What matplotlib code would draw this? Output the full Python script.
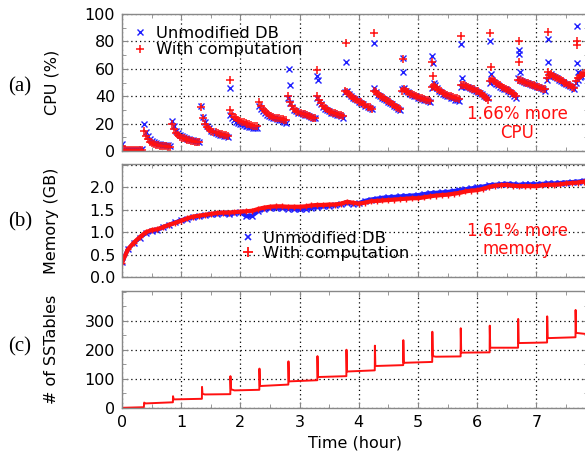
import matplotlib
matplotlib.use("Agg")
import matplotlib.pyplot as plt
import numpy as np
from matplotlib.ticker import MultipleLocator
from matplotlib.lines import Line2D

# ---------------- data ----------------
# CPU (%) : compaction cycles, start times (hour) and sampled values
seg_start = [0.0, 0.37, 0.84, 1.34, 1.82, 2.32, 2.81, 3.29, 3.77, 4.25,
             4.73, 5.23, 5.72, 6.21, 6.69, 7.18, 7.67, 7.85]
cpu_blue = [
    [5, 1, 0.5, 0.5, 0.8, 0.5, 0.6, 0.5, 0.8, 0.5, 1.5],
    [20, 14, 11, 9, 7.5, 6.5, 6, 5.5, 5, 4.8, 4.5, 4.3, 4.2, 4],
    [22, 18, 15, 13, 12, 11, 10.3, 9.7, 9.2, 8.8, 8.4, 8, 7.6, 7.3, 7],
    [33, 25, 21, 18, 16.5, 15, 14, 13.3, 12.5, 12, 11.5, 11, 10.7, 10.3],
    [26, 24, 22.5, 21.5, 20.5, 20, 19.5, 19, 18.5, 18, 17.8, 17.5, 17.2, 17, 16.8],
    [33, 31, 29, 27.5, 26.5, 25.5, 25, 24.5, 24, 23.5, 23, 22.5, 22, 21, 20.5],
    [39, 35, 32, 30, 29, 28, 27.5, 27, 26.5, 26, 25.5, 25, 24.5, 24],
    [39, 36, 34, 32.5, 31, 30, 29, 28, 27.5, 27, 26.5, 26, 25.5, 24.5],
    [43, 44, 42, 40.5, 39, 38, 37, 36, 35, 34, 33, 32.5, 31.5, 30.5],
    [46, 43, 41, 40, 39, 38, 37, 36, 35, 34, 33, 32, 31, 30],
    [45, 46, 44, 43, 42, 41, 40.5, 40, 39, 38.5, 38, 37.5, 37, 36.5, 36],
    [46, 50, 48, 46, 44, 43, 42, 41, 40.5, 40, 39, 38.5, 37.5, 37, 36.5],
    [47, 48, 47.5, 47, 46.5, 46, 45, 44.5, 44, 43, 42.5, 41.5, 40.5, 39.5, 38.5],
    [50, 52, 50.5, 49, 48, 47, 46, 45.5, 45, 44, 43, 42, 40.5, 38.5],
    [53, 52, 51, 50.5, 50, 49.5, 49, 48.5, 48, 47.5, 47, 46.5, 46, 45, 44],
    [52, 55, 56.5, 55, 54, 53, 52, 51, 50.5, 50, 49, 48.5, 47.5, 46.5, 45],
    [50, 52, 54, 55, 56, 56.5],
]
cpu_red = [
    [4, 0.8, 0.5, 0.6, 0.5, 0.7, 0.5, 0.6, 0.5, 0.6, 0.5],
    [15, 11, 8.5, 7, 6, 5.3, 4.8, 4.4, 4, 3.8, 3.6, 3.4, 3.3, 3.2],
    [20, 16, 13, 11.5, 10.5, 9.8, 9.3, 8.8, 8.4, 8, 7.6, 7.3, 7, 6.8, 6.5],
    [32, 24, 20, 17.5, 16, 15, 14.2, 13.6, 13, 12.6, 12.2, 11.8, 11.5, 11.2],
    [30, 27, 25, 24, 23, 22, 21.5, 21, 20.5, 20, 19.5, 19, 18.5, 18.3, 18],
    [36, 33, 30.5, 29, 27.5, 26.5, 25.5, 25, 24.5, 24, 23.8, 23.5, 23.2, 23, 22.8],
    [40, 36, 33, 31, 29.5, 28.5, 28, 27.3, 26.7, 26, 25.5, 25, 24.5, 24],
    [40, 37, 35, 33, 31.5, 30.5, 29.5, 28.5, 28, 27.5, 27, 26.5, 26, 25.5],
    [44, 43, 41.5, 40, 39, 38, 37, 36, 35.5, 34.5, 33.5, 32.5, 32, 31],
    [44, 43, 41.5, 40.5, 39.5, 38.5, 37.5, 36.5, 35.5, 34.5, 33.5, 32.5, 31.5, 30.5],
    [44, 45, 44, 43, 42, 41.5, 41, 40, 39.5, 39, 38.5, 38, 37.5, 37, 36.5],
    [47, 48, 47, 45.5, 44.5, 43.5, 42.5, 41.5, 41, 40.5, 40, 39.5, 39, 38.5, 38],
    [48, 48.5, 48, 47.5, 47, 46, 45.5, 45, 44, 43.5, 42.5, 41.5, 40.5, 39, 37],
    [51, 52.5, 51, 50, 49, 48, 47, 46, 45.5, 44.5, 43.5, 42.5, 41.5, 40.5],
    [52, 51.5, 51, 50.5, 50, 49.5, 49, 48.5, 48, 47.5, 47, 46.5, 46, 45.5, 45],
    [53, 55.5, 56, 55, 54, 53, 52.5, 51.5, 51, 50, 49.5, 48.5, 48, 47, 46],
    [51, 53, 54.5, 55.5, 56.5, 57],
]
# isolated CPU peaks at the start of compactions
blue_peak_t = [1.83, 2.82, 2.83, 3.30, 3.31, 3.78, 4.26, 4.74, 4.75, 5.24, 5.25,
               5.73, 5.74, 6.22, 6.23, 6.70, 6.71, 6.72, 7.19, 7.20, 7.68, 7.69, 7.70]
blue_peak_v = [46, 60, 48, 55, 52, 65, 79, 68, 58, 69, 64,
               78, 53, 80, 56, 74, 71, 58, 81.5, 65, 91, 64, 58]
red_peak_t = [1.83, 3.30, 3.78, 4.26, 4.74, 5.24, 5.25, 5.73, 6.22, 6.23,
              6.70, 6.71, 7.19, 7.20, 7.68, 7.69]
red_peak_v = [52, 59, 79, 86, 67, 65, 55, 84, 86, 61,
              80, 65, 87, 58, 80.5, 77.5]

# Memory (GB), sampled every 0.1 hour from 0 to 7.8
mem_t = [round(0.1 * i, 1) for i in range(79)]
mem_blue = [0.33, 0.62, 0.76, 0.88, 0.98, 1.03, 1.06, 1.12, 1.17, 1.22,
            1.27, 1.30, 1.34, 1.36, 1.38, 1.40, 1.41, 1.42, 1.40, 1.43,
            1.45, 1.36, 1.37, 1.47, 1.52, 1.54, 1.54, 1.54, 1.53, 1.52,
            1.51, 1.53, 1.55, 1.56, 1.58, 1.59, 1.61, 1.63, 1.66, 1.64,
            1.65, 1.70, 1.73, 1.75, 1.77, 1.78, 1.79, 1.80, 1.81, 1.82,
            1.83, 1.85, 1.87, 1.88, 1.89, 1.90, 1.92, 1.94, 1.96, 1.98,
            2.00, 2.02, 2.05, 2.06, 2.07, 2.08, 2.07, 2.06, 2.07, 2.07,
            2.07, 2.08, 2.09, 2.09, 2.10, 2.11, 2.12, 2.13, 2.15]
mem_red = [0.32, 0.62, 0.77, 0.89, 1.00, 1.05, 1.07, 1.12, 1.17, 1.21,
           1.26, 1.31, 1.35, 1.37, 1.39, 1.41, 1.43, 1.44, 1.44, 1.45,
           1.46, 1.47, 1.48, 1.52, 1.55, 1.57, 1.58, 1.58, 1.57, 1.57,
           1.57, 1.58, 1.60, 1.61, 1.61, 1.62, 1.62, 1.64, 1.68, 1.66,
           1.64, 1.66, 1.69, 1.70, 1.71, 1.72, 1.73, 1.74, 1.75, 1.76,
           1.76, 1.78, 1.80, 1.82, 1.83, 1.84, 1.86, 1.88, 1.91, 1.93,
           1.94, 1.97, 2.01, 2.04, 2.05, 2.06, 2.04, 2.03, 2.03, 2.03,
           2.03, 2.05, 2.06, 2.06, 2.07, 2.09, 2.10, 2.11, 2.13]

# Number of SSTables
sst_t = [0.00, 0.37, 0.375, 0.385, 0.86, 0.862, 0.875, 1.35, 1.352, 1.36, 1.40,
         1.83, 1.832, 1.84, 1.90, 2.32, 2.322, 2.33, 2.81, 2.812, 2.82,
         3.30, 3.302, 3.31, 3.79, 3.792, 3.80, 4.27, 4.272, 4.28, 4.75, 4.752, 4.76,
         5.24, 5.242, 5.25, 5.30, 5.72, 5.722, 5.73, 6.21, 6.212, 6.22,
         6.69, 6.692, 6.70, 7.18, 7.182, 7.19, 7.66, 7.662, 7.67, 7.85]
sst_v = [0, 2, 18, 15, 19, 40, 29, 31, 72, 48, 46,
         47, 109, 64, 60, 62, 135, 75, 80, 160, 91,
         95, 178, 106, 109, 200, 125, 129, 214, 144, 147, 233, 155,
         158, 262, 178, 176, 177, 274, 190, 191, 283, 207,
         207, 306, 223, 225, 315, 240, 243, 337, 258, 254]

x_ticks = [0, 1, 2, 3, 4, 5, 6, 7]
labels = ["Unmodified DB", "With computation"]

# ---------------- drawing ----------------
BLUE = "#1f1fff"
RED = "#ff1010"
SPINE = "#888888"
FS = 11.5

plt.rcParams["font.family"] = ["DejaVu Sans"]
fig = plt.figure(figsize=(5.85, 4.65), dpi=100)
L, W = 0.2085, 0.7965
ax1 = fig.add_axes([L, 0.675, W, 0.295])
ax2 = fig.add_axes([L, 0.404, W, 0.243])
ax3 = fig.add_axes([L, 0.123, W, 0.251])

# CPU
bt, bv, rt, rv = [], [], [], []
for i in range(len(cpu_blue)):
    s, e = seg_start[i], seg_start[i + 1]
    nb = len(cpu_blue[i])
    bt += [s + (e - s) * k / nb for k in range(nb)]
    bv += cpu_blue[i]
    nr = len(cpu_red[i])
    rt += [s + (e - s) * k / nr for k in range(nr)]
    rv += cpu_red[i]
bt += blue_peak_t; bv += blue_peak_v
rt += red_peak_t; rv += red_peak_v
ax1.plot(bt, bv, ls="none", marker="x", ms=4.5, mew=1.0, color=BLUE, label=labels[0])
ax1.plot(rt, rv, ls="none", marker="+", ms=6, mew=1.1, color=RED, label=labels[1])
ax1.set_ylim(0, 100)
ax1.yaxis.set_major_locator(MultipleLocator(20))
ax1.yaxis.set_minor_locator(MultipleLocator(10))
ax1.set_ylabel("CPU (%)", fontsize=FS)
ax1.legend(loc="upper left", bbox_to_anchor=(0.022, 0.915), frameon=False,
           fontsize=11.8, handlelength=1.0, handletextpad=0.45, labelspacing=0.1,
           borderaxespad=0, borderpad=0)
ax1.text(0.848, 0.2, "1.66% more\nCPU", transform=ax1.transAxes, color=RED,
         fontsize=12, ha="center", va="center", linespacing=1.1)

# Memory
ax2.plot(mem_t, mem_blue, ls="-", lw=3.0, marker="x", ms=4, mew=1.0, color=BLUE)
ax2.plot(mem_t, mem_red, ls="-", lw=3.0, marker="+", ms=5, mew=1.0, color=RED)
ax2.set_ylim(0, 2.52)
ax2.set_yticks([0, 0.5, 1.0, 1.5, 2.0, 2.5])
ax2.set_yticklabels(["0.0", "0.5", "1.0", "1.5", "2.0", ""])
ax2.set_ylabel("Memory (GB)", fontsize=FS)
mem_handles = [Line2D([], [], ls="none", marker="x", ms=5, mew=1.2, color=BLUE),
               Line2D([], [], ls="none", marker="+", ms=7, mew=1.3, color=RED)]
ax2.legend(mem_handles, labels, loc="upper left", bbox_to_anchor=(0.252, 0.41),
           frameon=False, fontsize=11.8, handlelength=1.0, handletextpad=0.45,
           labelspacing=0.0, borderaxespad=0, borderpad=0)
ax2.text(0.848, 0.33, "1.61% more\nmemory", transform=ax2.transAxes, color=RED,
         fontsize=12, ha="center", va="center", linespacing=1.0)

# SSTables
ax3.plot(sst_t, sst_v, color=RED, lw=1.4)
ax3.set_ylim(0, 402)
ax3.yaxis.set_minor_locator(MultipleLocator(50))
ax3.set_yticks([0, 100, 200, 300])
ax3.set_ylabel("# of SSTables", fontsize=FS)
ax3.set_xlabel("Time (hour)", fontsize=FS, labelpad=4)

for ax in (ax1, ax2, ax3):
    ax.set_xlim(0, 7.87)
    ax.set_xticks(x_ticks)
    ax.xaxis.set_minor_locator(MultipleLocator(0.5))
    ax.grid(True, which="major", color="black", linestyle=(0, (1, 2.5)), lw=0.9)
    ax.set_axisbelow(True)
    ax.tick_params(which="both", direction="in", top=True, right=True,
                   color=SPINE, labelsize=FS, pad=5)
    ax.tick_params(which="major", length=4)
    ax.tick_params(which="minor", length=3)
    for sp in ax.spines.values():
        sp.set_color(SPINE)
        sp.set_linewidth(1.0)
    ax.yaxis.set_label_coords(-0.135, 0.5)
for ax in (ax1, ax2):
    ax.tick_params(labelbottom=False)

for lbl, yc in (("(a)", 87), ("(b)", 222), ("(c)", 347)):
    fig.text(20 / 585, 1 - yc / 465, lbl, family="Liberation Serif", fontsize=15,
             ha="center", va="center")

fig.savefig("out.png", dpi=100)
